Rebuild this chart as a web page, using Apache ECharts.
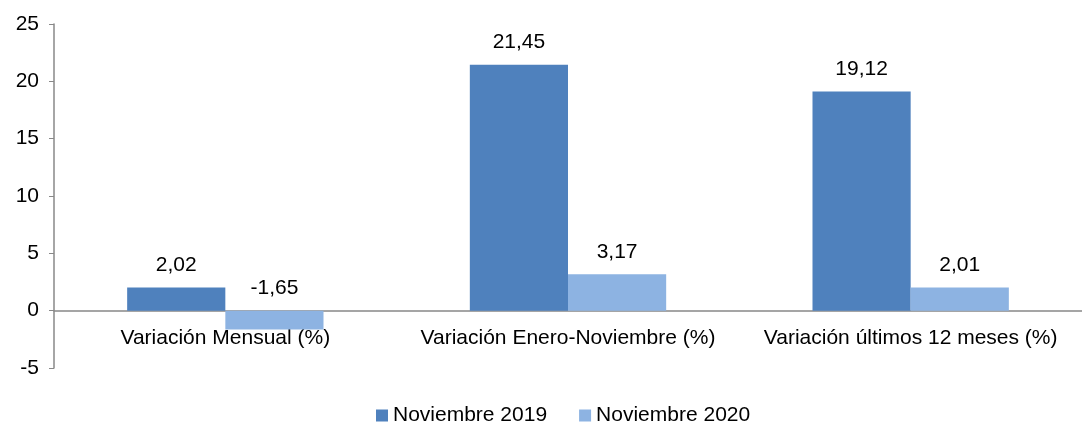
<!DOCTYPE html>
<html><head><meta charset="utf-8">
<script src="https://cdn.jsdelivr.net/npm/echarts@6/dist/echarts.min.js"></script>
<style>html,body{margin:0;padding:0;background:#fff}#c{width:1082px;height:425px}</style>
</head><body><div id="c"></div>
<script>
const categories = ['Variación Mensual (%)', 'Variación Enero-Noviembre (%)', 'Variación últimos 12 meses (%)'];
const seriesNames = ['Noviembre 2019', 'Noviembre 2020'];
const values2019 = [2.02, 21.45, 19.12];
const values2020 = [-1.65, 3.17, 2.01];
const colors = ['#4F81BD', '#8DB3E2'];
const font = 'Liberation Sans, Arial, sans-serif';
const fs = 21;
const fmt = p => p.value.toFixed(2).replace('.', ',');
const gridTop = 24, gridH = 344, yMin = -5, yMax = 25;
const zeroOffset = -(gridH * (0 - yMin) / (yMax - yMin));
const chart = echarts.init(document.getElementById('c'));
chart.setOption({
  animation: false,
  grid: { left: 54, top: gridTop, width: 1041, height: gridH },
  legend: {
    top: 400, left: 371, itemWidth: 12, itemHeight: 12, itemGap: 32,
    icon: 'rect',
    textStyle: { fontFamily: font, fontSize: fs, color: '#000' },
    data: seriesNames
  },
  xAxis: {
    type: 'category', data: categories,
    offset: zeroOffset,
    axisLine: { onZero: false, lineStyle: { color: '#888', width: 1.5 } },
    axisTick: { show: false },
    axisLabel: { interval: 0, fontFamily: font, fontSize: fs, color: '#000', margin: 17 }
  },
  yAxis: {
    type: 'value', min: yMin, max: yMax, interval: 5,
    splitLine: { show: false },
    axisLine: { show: true, lineStyle: { color: '#888', width: 1.5 } },
    axisTick: { show: true, length: 5, lineStyle: { color: '#888' } },
    axisLabel: { fontFamily: font, fontSize: fs, color: '#000', margin: 15 }
  },
  series: [
    { name: seriesNames[0], type: 'bar', data: values2019, itemStyle: { color: colors[0] },
      barGap: '0%', barCategoryGap: '42.7%',
      label: { show: true, position: 'top', distance: 12, formatter: fmt, fontFamily: font, fontSize: fs, color: '#000' } },
    { name: seriesNames[1], type: 'bar', data: values2020, itemStyle: { color: colors[1] },
      barGap: '0%', barCategoryGap: '42.7%',
      label: { show: true, position: 'top', distance: 12, formatter: fmt, fontFamily: font, fontSize: fs, color: '#000' } }
  ]
});
</script></body></html>
